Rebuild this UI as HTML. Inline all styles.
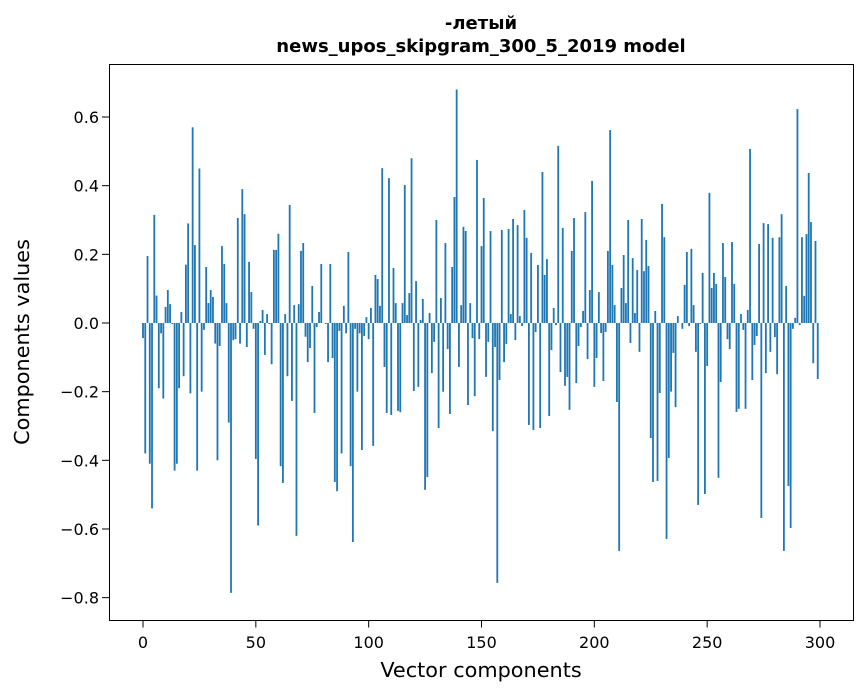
<!DOCTYPE html>
<html><head><meta charset="utf-8"><style>
html,body{margin:0;padding:0;background:#fff;}
svg{display:block;font-family:"DejaVu Sans","Liberation Sans",sans-serif;}
</style></head><body>
<svg id="chart" width="867" height="696" viewBox="0 0 867 696" xmlns="http://www.w3.org/2000/svg">
<rect width="867" height="696" fill="#fff"/>
<text x="481" y="29" text-anchor="middle" font-size="18" font-weight="bold">-летый</text>
<text x="481" y="52" text-anchor="middle" font-size="18" font-weight="bold">news_upos_skipgram_300_5_2019 model</text>
<g id="bars"></g>
<g id="xticks"></g>
<g id="yticks"></g>
<rect x="109.5" y="64.5" width="744" height="556" fill="none" stroke="#000" stroke-width="1"/>
<text x="481" y="677" text-anchor="middle" font-size="20.8">Vector components</text>
<text transform="translate(29,342) rotate(-90)" text-anchor="middle" font-size="20.8">Components values</text>
</svg>
<script>
const values = [
-0.044,-0.38,0.195,-0.41,-0.54,0.315,0.08,-0.19,-0.03,-0.22,
0.047,0.096,0.055,-0.003,-0.43,-0.41,-0.19,0.032,-0.155,0.17,
0.29,-0.205,0.57,0.227,-0.43,0.45,-0.2,-0.02,0.163,0.058,
0.096,0.076,-0.06,-0.4,-0.067,0.224,0.172,0.058,-0.29,-0.786,
-0.05,-0.047,0.306,-0.06,0.39,0.317,-0.07,0.178,0.09,-0.017,
-0.396,-0.59,0.006,0.038,-0.093,0.026,-0.003,-0.12,0.213,0.213,
0.26,-0.417,-0.466,0.026,-0.155,0.344,-0.227,0.052,-0.62,0.055,
0.21,0.233,-0.04,-0.114,-0.073,0.108,-0.262,-0.012,0.032,0.172,
0.0,-0.003,-0.114,0.172,-0.102,-0.463,-0.49,-0.023,-0.38,0.05,
-0.03,0.207,-0.417,-0.638,-0.017,-0.2,-0.03,-0.37,-0.038,0.017,
-0.047,0.044,-0.358,0.14,0.128,0.05,0.451,-0.128,-0.262,0.422,
-0.268,0.16,0.058,-0.256,-0.26,0.058,0.402,0.023,0.087,0.48,
-0.198,0.122,-0.186,0.009,0.07,-0.486,-0.449,0.029,-0.146,-0.055,
0.3,-0.306,0.073,-0.2,0.233,-0.076,-0.265,0.163,0.367,0.68,
-0.128,0.052,0.28,0.268,-0.239,0.058,-0.044,-0.213,0.475,-0.047,
0.224,0.364,-0.157,-0.055,0.268,-0.315,-0.07,-0.757,-0.166,0.271,
-0.114,-0.061,0.274,0.026,0.303,-0.05,0.285,0.02,-0.009,0.329,
0.248,-0.297,0.204,-0.312,-0.026,0.169,-0.306,0.44,0.14,0.186,
-0.271,-0.079,0.044,-0.006,0.516,-0.143,0.277,-0.183,-0.157,-0.253,
0.21,0.306,-0.175,-0.067,-0.012,0.035,0.323,-0.105,0.096,0.414,
-0.186,-0.102,0.09,-0.029,-0.169,-0.026,0.21,0.562,0.169,0.052,
-0.23,-0.664,0.102,0.198,0.058,0.3,-0.058,0.189,0.029,0.154,
-0.084,0.303,0.151,0.242,0.166,-0.335,-0.463,0.035,-0.46,-0.204,
0.347,0.25,-0.629,-0.393,-0.2,-0.087,-0.245,0.02,0.0,-0.017,
0.111,0.207,-0.009,0.216,0.052,-0.084,-0.53,-0.003,0.146,-0.498,
-0.125,0.379,0.102,0.146,0.114,-0.451,-0.172,0.233,0.134,-0.047,
-0.076,0.236,0.114,-0.259,-0.25,0.026,-0.02,-0.25,0.038,0.507,
-0.166,-0.064,-0.038,0.23,-0.568,0.291,-0.146,0.288,-0.084,0.248,
-0.041,-0.149,0.25,0.317,-0.664,0.108,-0.475,-0.597,-0.017,0.015,
0.623,-0.006,0.25,0.079,0.259,0.437,0.294,-0.117,0.239,-0.163
];
const xTickValues = [0,50,100,150,200,250,300];
const yTickValues = [-0.8,-0.6,-0.4,-0.2,0.0,0.2,0.4,0.6];

const NS = "http://www.w3.org/2000/svg";
const X0 = 143, X300 = 820;
function xScale(v){ return X0 + (X300 - X0) * v / 300; }
const Y0 = 323, PXU = 343.3;
function yScale(v){ return Y0 - v * PXU; }

const bars = document.getElementById('bars');
values.forEach(function(v, i){
  const r = document.createElementNS(NS, 'rect');
  
  
  const w = 0.8 * (X300 - X0) / 300;
  const y1 = yScale(Math.max(v, 0)), y2 = yScale(Math.min(v, 0));
  r.setAttribute('x', (xScale(i) - w / 2).toFixed(2));
  r.setAttribute('y', y1.toFixed(2));
  r.setAttribute('width', w.toFixed(2));
  r.setAttribute('height', Math.max(y2 - y1, 0).toFixed(2));
  r.setAttribute('fill', '#1f77b4');
  bars.appendChild(r);
});

const xt = document.getElementById('xticks');
xTickValues.forEach(function(t){
  const x = xScale(t);
  const l = document.createElementNS(NS, 'line');
  
  
  l.setAttribute('x1', x); l.setAttribute('x2', x);
  l.setAttribute('y1', 620.5); l.setAttribute('y2', 627.5);
  l.setAttribute('stroke', '#000');
  xt.appendChild(l);
  const tx = document.createElementNS(NS, 'text');
  
  
  tx.setAttribute('x', x); tx.setAttribute('y', 648);
  tx.setAttribute('text-anchor', 'middle');
  tx.setAttribute('font-size', '16');
  tx.textContent = String(t);
  xt.appendChild(tx);
});

const yt = document.getElementById('yticks');
yTickValues.forEach(function(t){
  const y = yScale(t);
  const l = document.createElementNS(NS, 'line');
  
  
  l.setAttribute('x1', 102); l.setAttribute('x2', 109.5);
  l.setAttribute('y1', y); l.setAttribute('y2', y);
  l.setAttribute('stroke', '#000');
  yt.appendChild(l);
  const tx = document.createElementNS(NS, 'text');
  
  
  tx.setAttribute('x', 99); tx.setAttribute('y', y + 6);
  tx.setAttribute('text-anchor', 'end');
  tx.setAttribute('font-size', '16');
  tx.textContent = (t < 0 ? '\u2212' : '') + Math.abs(t).toFixed(1);
  yt.appendChild(tx);
});
</script>
</body></html>
